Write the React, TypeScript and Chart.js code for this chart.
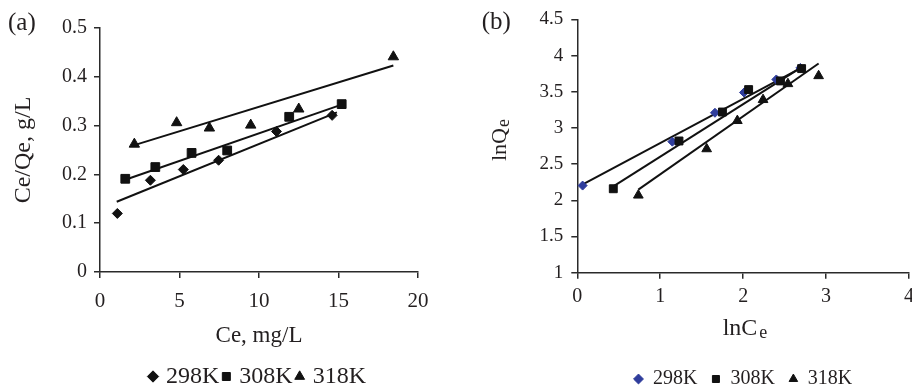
import React, { useEffect, useRef } from 'react';
import { Chart, registerables } from 'chart.js';

Chart.register(...registerables);

const FONT = '"Liberation Serif", "Times New Roman", serif';
const INK = '#231f20';
const AXIS = '#2a2a2a';
const BLUE = '#2f3d9c';

// ---------- shared ----------
const seriesLabels = ['298K', '308K', '318K'];

// ---------- panel (a): Ce/Qe vs Ce ----------
const a298X = [1.09, 3.17, 5.24, 7.46, 11.1, 14.6];
const a298Y = [0.12, 0.188, 0.21, 0.229, 0.288, 0.321];
const a308X = [1.59, 3.48, 5.76, 8.0, 11.9, 15.2];
const a308Y = [0.191, 0.215, 0.244, 0.249, 0.318, 0.344];
const a318X = [2.16, 4.82, 6.88, 9.48, 12.5, 18.45];
const a318Y = [0.262, 0.306, 0.295, 0.301, 0.334, 0.441];
// fitted lines (end points)
const aFit298X = [1.05, 14.9];
const aFit298Y = [0.144, 0.327];
const aFit308X = [1.59, 15.2];
const aFit308Y = [0.189, 0.343];
const aFit318X = [2.16, 18.45];
const aFit318Y = [0.26, 0.423];
// axes
const aXRange = [0, 20];
const aXStep = 5;
const aYRange = [0, 0.5];
const aYStep = 0.1;
const aXTitle = 'Ce, mg/L';
const aYTitle = 'Ce/Qe, g/L';
const aTag = '(a)';

// ---------- panel (b): lnQe vs lnCe ----------
const b298X = [0.064, 1.146, 1.66, 2.01, 2.4, 2.69];
const b298Y = [2.204, 2.811, 3.21, 3.49, 3.67, 3.83];
const b308X = [0.434, 1.226, 1.75, 2.066, 2.45, 2.705];
const b308Y = [2.16, 2.82, 3.22, 3.53, 3.65, 3.82];
const b318X = [0.736, 1.56, 1.93, 2.24, 2.54, 2.91];
const b318Y = [2.07, 2.71, 3.1, 3.39, 3.61, 3.72];
const bFit298X = [0.055, 2.7];
const bFit298Y = [2.215, 3.83];
const bFit308X = [0.43, 2.71];
const bFit308Y = [2.19, 3.845];
const bFit318X = [0.736, 2.91];
const bFit318Y = [2.147, 3.89];
const bXRange = [0, 4];
const bXStep = 1;
const bYRange = [1, 4.5];
const bYStep = 0.5;
const bXTitle = ['lnC', 'e'];
const bYTitle = ['lnQ', 'e'];
const bTag = '(b)';

function pts(xs: number[], ys: number[]) {
  return xs.map((x, i) => ({ x, y: ys[i] }));
}

function markerSet(label: string, xs: number[], ys: number[], style: string, radius: number, color: string, order: number) {
  return {
    label,
    data: pts(xs, ys),
    pointStyle: style,
    pointRadius: radius,
    pointHoverRadius: radius,
    backgroundColor: color,
    borderColor: color,
    pointBackgroundColor: color,
    pointBorderColor: color,
    pointBorderWidth: 1,
    showLine: false,
    order,
  };
}

function fitSet(xs: number[], ys: number[]) {
  return {
    label: 'fit',
    data: pts(xs, ys),
    showLine: true,
    pointRadius: 0,
    pointHoverRadius: 0,
    borderColor: '#111',
    borderWidth: 2,
    fill: false,
    order: 10,
  };
}

type TextPart = { text: string; size: number; dy?: number; dx?: number };
type TextItem = { x: number; y: number; parts: TextPart[]; align?: 'left' | 'center'; rotation?: number; color?: string };

function makeTextPlugin(id: string, items: TextItem[]) {
  return {
    id,
    afterDraw(chart: any) {
      const ctx = chart.ctx as CanvasRenderingContext2D;
      items.forEach((item) => {
        ctx.save();
        ctx.fillStyle = item.color || INK;
        ctx.textBaseline = 'alphabetic';
        ctx.textAlign = 'left';
        ctx.translate(item.x, item.y);
        if (item.rotation) ctx.rotate(item.rotation);
        const widths = item.parts.map((p) => {
          ctx.font = `${p.size}px ${FONT}`;
          return ctx.measureText(p.text).width + (p.dx || 0);
        });
        const total = widths.reduce((s, w) => s + w, 0);
        let cx = item.align === 'center' ? -total / 2 : 0;
        item.parts.forEach((p, i) => {
          ctx.font = `${p.size}px ${FONT}`;
          ctx.fillText(p.text, cx + (p.dx || 0), p.dy || 0);
          cx += widths[i];
        });
        ctx.restore();
      });
    },
  };
}

const plainNumber = (v: any) => String(Math.round(Number(v) * 1000) / 1000);

function axisCommon() {
  return {
    grid: { display: true, drawOnChartArea: false, drawTicks: true, tickLength: 6, color: AXIS, lineWidth: 1.5 },
    border: { display: true, color: AXIS, width: 1.5 },
  };
}

function legendOpts(size: number, boxWidth: number, boxHeight: number, padding: number) {
  return {
    display: true,
    position: 'bottom',
    fullSize: false,
    align: 'center',
    labels: {
      usePointStyle: true,
      boxWidth,
      boxHeight,
      padding,
      color: INK,
      font: { family: FONT, size },
      filter: (item: any) => item.datasetIndex < 3,
      sort: (p: any, q: any) => p.datasetIndex - q.datasetIndex,
    },
  };
}

export default function App() {
  const refA = useRef<HTMLCanvasElement>(null);
  const refB = useRef<HTMLCanvasElement>(null);

  useEffect(() => {
    Chart.defaults.font.family = FONT;
    Chart.defaults.color = INK;

    const chartA = new Chart(refA.current as HTMLCanvasElement, {
      type: 'scatter',
      data: {
        datasets: [
          markerSet(seriesLabels[0], a298X, a298Y, 'rectRot', 5, '#111', 3),
          markerSet(seriesLabels[1], a308X, a308Y, 'rect', 6.2, '#111', 2),
          markerSet(seriesLabels[2], a318X, a318Y, 'triangle', 6, '#111', 1),
          fitSet(aFit298X, aFit298Y),
          fitSet(aFit308X, aFit308Y),
          fitSet(aFit318X, aFit318Y),
        ] as any,
      },
      options: {
        responsive: false,
        animation: false,
        events: [],
        layout: { padding: { left: 0, top: 28, right: 42, bottom: -7.5 } },
        plugins: {
          legend: legendOpts(24, 2, 8, 6) as any,
          tooltip: { enabled: false },
        },
        scales: {
          x: {
            type: 'linear',
            min: aXRange[0],
            max: aXRange[1],
            afterFit: (s: any) => { s.height = 86.5; },
            ticks: { stepSize: aXStep, autoSkip: false, maxRotation: 0, color: INK, padding: 11, font: { family: FONT, size: 21 }, callback: plainNumber },
            title: { display: true, text: aXTitle, color: INK, font: { family: FONT, size: 23 }, padding: { top: 0, bottom: 8.7 } },
            ...axisCommon(),
          },
          y: {
            type: 'linear',
            min: aYRange[0],
            max: aYRange[1],
            afterFit: (s: any) => { s.width = 100; },
            ticks: { stepSize: aYStep, autoSkip: false, color: INK, padding: 7, font: { family: FONT, size: 20 }, callback: plainNumber },
            title: { display: true, text: aYTitle, color: INK, font: { family: FONT, size: 24 }, padding: { top: 9.6, bottom: 0 } },
            ...axisCommon(),
          },
        } as any,
      },
      plugins: [
        makeTextPlugin('tagA', [{ x: 8, y: 30, parts: [{ text: aTag, size: 25 }] }]),
      ],
    });

    const chartB = new Chart(refB.current as HTMLCanvasElement, {
      type: 'scatter',
      data: {
        datasets: [
          markerSet(seriesLabels[0], b298X, b298Y, 'rectRot', 4.5, BLUE, 3),
          markerSet(seriesLabels[1], b308X, b308Y, 'rect', 5.6, '#111', 2),
          markerSet(seriesLabels[2], b318X, b318Y, 'triangle', 5.6, '#111', 1),
          fitSet(bFit298X, bFit298Y),
          fitSet(bFit308X, bFit308Y),
          fitSet(bFit318X, bFit318Y),
        ] as any,
      },
      options: {
        responsive: false,
        animation: false,
        events: [],
        layout: { padding: { left: 0, top: 15, right: 26, bottom: -8 } },
        plugins: {
          legend: legendOpts(20, 9, 7, 14) as any,
          tooltip: { enabled: false },
        },
        scales: {
          x: {
            type: 'linear',
            min: bXRange[0],
            max: bXRange[1],
            afterFit: (s: any) => { s.height = 82.3; },
            ticks: { stepSize: bXStep, autoSkip: false, maxRotation: 0, color: INK, padding: 6, font: { family: FONT, size: 20 }, callback: plainNumber },
            title: { display: false },
            ...axisCommon(),
          },
          y: {
            type: 'linear',
            min: bYRange[0],
            max: bYRange[1],
            afterFit: (s: any) => { s.width = 117.3; },
            ticks: { stepSize: bYStep, autoSkip: false, color: INK, padding: 8, font: { family: FONT, size: 19 }, callback: plainNumber },
            title: { display: false },
            ...axisCommon(),
          },
        } as any,
      },
      plugins: [
        makeTextPlugin('textsB', [
          { x: 21.7, y: 28.5, parts: [{ text: bTag, size: 25 }] },
          { x: 285, y: 335, align: 'center', parts: [{ text: bXTitle[0], size: 24 }, { text: bXTitle[1], size: 18, dx: 2, dy: 3.3 }] },
          { x: 46, y: 140, align: 'center', rotation: -Math.PI / 2, parts: [{ text: bYTitle[0], size: 22 }, { text: bYTitle[1], size: 18, dx: 1, dy: 2.5 }] },
        ]),
      ],
    });

    return () => {
      chartA.destroy();
      chartB.destroy();
    };
  }, []);

  return (
    <div style={{ position: 'absolute', left: 0, top: 0, width: 912, height: 391, overflow: 'hidden', background: '#fff' }}>
      <canvas ref={refA} width={460} height={391} style={{ position: 'absolute', left: 0, top: 0, width: 460, height: 391 }} />
      <canvas ref={refB} width={475} height={391} style={{ position: 'absolute', left: 460, top: 0, width: 475, height: 391 }} />
    </div>
  );
}
